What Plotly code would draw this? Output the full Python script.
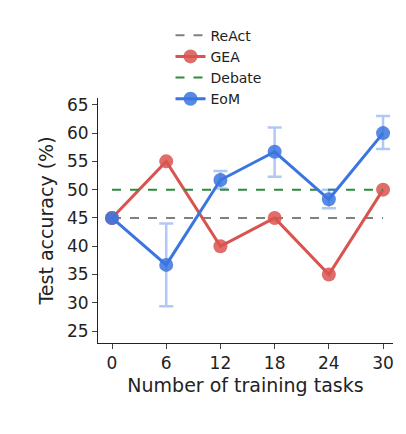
import plotly.graph_objects as go

tasks = [0, 6, 12, 18, 24, 30]
gea = [45, 55, 40, 45, 35, 50]
eom = [45, 36.7, 51.7, 56.7, 48.3, 60]
eom_plus = [0, 7.3, 1.6, 4.3, 1.7, 3.0]
eom_minus = [0, 7.3, 1.5, 4.4, 1.6, 2.8]
react = 45
debate = 50

fig = go.Figure()
fig.add_trace(go.Scatter(x=[0, 30], y=[react]*2, mode="lines", name="ReAct",
                         line=dict(color="#808080", dash="dash", width=2)))
fig.add_trace(go.Scatter(x=tasks, y=gea, mode="lines+markers", name="GEA",
                         line=dict(color="#d9534f", width=3),
                         marker=dict(size=14, color="#d9534f", opacity=0.85)))
fig.add_trace(go.Scatter(x=[0, 30], y=[debate]*2, mode="lines", name="Debate",
                         line=dict(color="#2e8b3e", dash="dash", width=2)))
fig.add_trace(go.Scatter(x=tasks, y=eom, mode="lines+markers", name="EoM",
                         line=dict(color="#3b75e0", width=3),
                         marker=dict(size=14, color="#3b75e0", opacity=0.85),
                         error_y=dict(type="data", array=eom_plus, arrayminus=eom_minus,
                                      color="rgba(59,117,224,0.4)", thickness=2.5, width=7)))

fig.update_layout(
    width=406, height=434, plot_bgcolor="white", paper_bgcolor="white",
    margin=dict(l=90, r=21, t=85, b=99),
    font=dict(family="DejaVu Sans", size=17, color="#222"),
    legend=dict(orientation="h", x=0.5, xanchor="center", y=1.32, yanchor="top",
                entrywidth=105, font=dict(size=14)),
    showlegend=True,
)
fig.update_xaxes(range=[-1.55, 31.1], tickvals=tasks, showline=True, linecolor="#222",
                 ticks="outside", ticklen=5, showgrid=False, zeroline=False,
                 tickfont=dict(size=17),
                 title=dict(text="Number of training tasks", standoff=6, font=dict(size=19)),
                 automargin=False)
fig.update_yaxes(range=[22.9, 66.2], tickvals=[25, 30, 35, 40, 45, 50, 55, 60, 65],
                 showline=True, linecolor="#222", ticks="outside", ticklen=5,
                 showgrid=False, zeroline=False, automargin=False,
                 tickfont=dict(size=17),
                 title=dict(text="Test accuracy (%)", standoff=8, font=dict(size=19)))
fig.write_html("out.html")
